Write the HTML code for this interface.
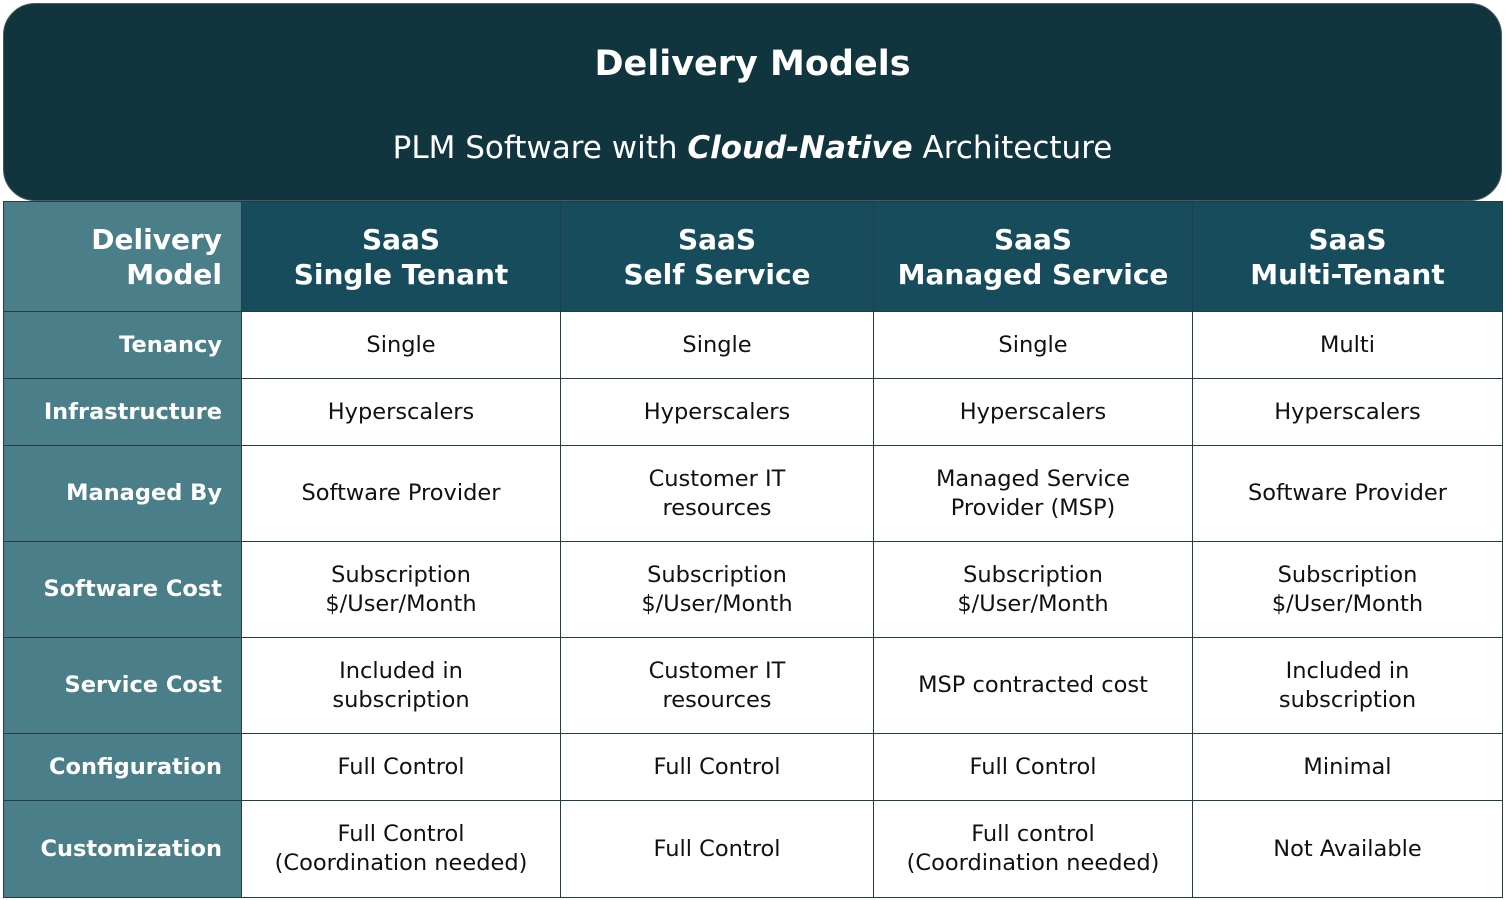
<!DOCTYPE html>
<html><head><meta charset="utf-8"><style>
body{margin:0;width:1506px;height:900px;background:#fff;font-family:"DejaVu Sans","Liberation Sans",sans-serif;position:relative;overflow:hidden}
.ban{position:absolute;left:3px;top:3px;width:1497px;height:196px;background:#10353f;border-radius:32px;border:1px solid #4a5a60;color:#fff;text-align:center}
.t1{position:absolute;top:40px;width:100%;font-weight:bold;font-size:35px}
.t2{position:absolute;top:126px;width:100%;font-size:31px}
.c{position:absolute;box-sizing:border-box;border:1px solid #1f3e48;display:flex;align-items:center;justify-content:center;text-align:center;font-size:22.5px;line-height:29px;color:#111}
.h{background:#174c5c;color:#fff;font-weight:bold;font-size:28px;line-height:35px}
.l{background:#4a7e88;color:#fff;font-weight:bold;justify-content:flex-end;text-align:right;padding-right:19px}
</style></head><body>
<div class="ban"><div class="t1">Delivery Models</div><div class="t2">PLM Software with <b><i>Cloud-Native</i></b> Architecture</div></div>
<div id="g"></div>
<script>
var xs=[3,241,560,873,1192,1502],ys=[201,311,378,445,541,637,733,800,897];
var d=[["Delivery<br>Model","SaaS<br>Single Tenant","SaaS<br>Self Service","SaaS<br>Managed Service","SaaS<br>Multi-Tenant"],
["Tenancy","Single","Single","Single","Multi"],
["Infrastructure","Hyperscalers","Hyperscalers","Hyperscalers","Hyperscalers"],
["Managed By","Software Provider","Customer IT<br>resources","Managed Service<br>Provider (MSP)","Software Provider"],
["Software Cost","Subscription<br>$/User/Month","Subscription<br>$/User/Month","Subscription<br>$/User/Month","Subscription<br>$/User/Month"],
["Service Cost","Included in<br>subscription","Customer IT<br>resources","MSP contracted cost","Included in<br>subscription"],
["Configuration","Full Control","Full Control","Full Control","Minimal"],
["Customization","Full Control<br>(Coordination needed)","Full Control","Full control<br>(Coordination needed)","Not Available"]];
var h="";
for(var r=0;r<8;r++)for(var c=0;c<5;c++){
var cls="c"+(r==0?" h":"")+(c==0?" l":"");
h+='<div class="'+cls+'" style="left:'+xs[c]+'px;top:'+ys[r]+'px;width:'+(xs[c+1]-xs[c]+1)+'px;height:'+(ys[r+1]-ys[r]+1)+'px">'+d[r][c]+'</div>';}
document.getElementById("g").innerHTML=h;
</script>
</body></html>
